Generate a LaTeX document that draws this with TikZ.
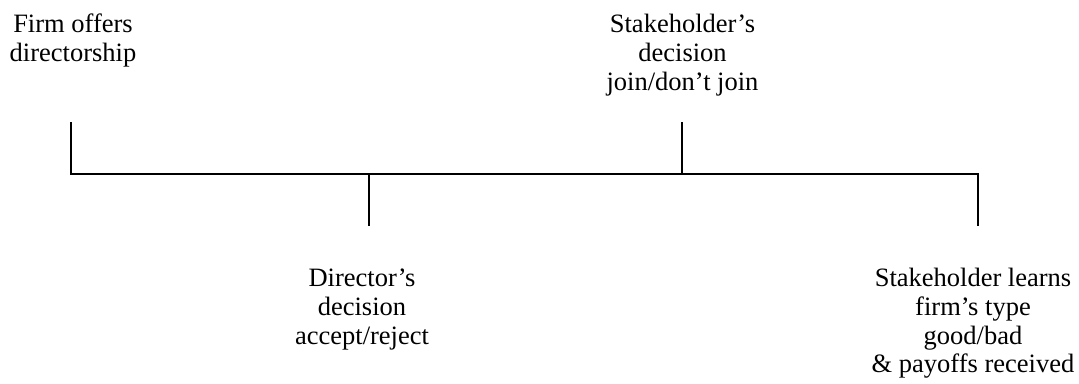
\documentclass[tikz,border=0pt]{standalone}
\usepackage{fontspec}
\setmainfont{Liberation Serif}
\begin{document}
\begin{tikzpicture}[x=1pt,y=-1pt,
  lbl/.style={anchor=north,inner sep=0pt,align=center,font=\fontsize{26.5}{28.8}\selectfont},
  tl/.style={line width=1.6pt,line cap=butt,line join=miter}]
\useasboundingbox (0,0) rectangle (1079,383);
% timeline points
\coordinate (p1) at (71,174);
\coordinate (p1t) at (71,122);
\coordinate (p2) at (369,174);
\coordinate (p2b) at (369,226);
\coordinate (p3) at (682,174);
\coordinate (p3t) at (682,122);
\coordinate (p4) at (978,174);
\coordinate (p4b) at (978,226);
\draw[tl] (p1t) -- (p1) -- (p4) -- (p4b);
\draw[tl] (p2) -- (p2b);
\draw[tl] (p3) -- (p3t);
% labels
\node[lbl] (firm) at (73,14) {Firm offers\\directorship};
\node[lbl] (stake) at (682.5,14) {Stakeholder's\\decision\\join/don't join};
\node[lbl] (dir) at (362,269) {Director's\\decision\\accept/reject};
\node[lbl] (learn) at (973,268) {Stakeholder learns\\firm's type\\good/bad\\\& payoffs received};
\end{tikzpicture}
\end{document}
